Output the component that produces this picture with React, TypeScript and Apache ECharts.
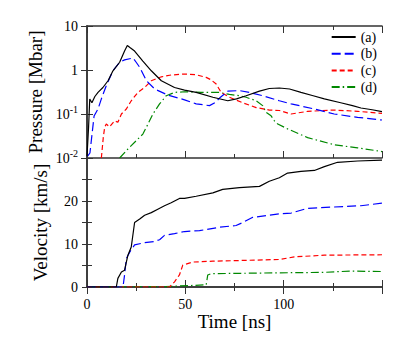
import React, { useEffect, useRef } from "react";
import * as echarts from "echarts";

const seriesNames = ["(a)", "(b)", "(c)", "(d)"];
const seriesColors = ["#000000", "#0000ff", "#ff0000", "#008800"];
const seriesDash: (number[] | "solid")[] = ["solid", [9, 4], [5, 3], [8, 3, 1.5, 3]];

const pressureA = [
  [0, 0.011], [0.8, 0.05], [1.4, 0.22], [2.5, 0.18], [4, 0.25], [5.6, 0.31], [8.1, 0.4],
  [10.7, 0.57], [13.2, 0.96], [16.6, 1.5], [19.1, 2.7], [20.5, 3.6], [22, 3.2], [24.2, 2.7],
  [28.4, 1.6], [32.7, 0.96], [37.8, 0.57], [44.5, 0.4], [49.6, 0.35], [55.5, 0.31], [64, 0.24],
  [71.6, 0.2], [76, 0.22], [80.9, 0.26], [87.7, 0.33], [92.7, 0.38], [97.8, 0.39], [103, 0.37],
  [108.8, 0.31], [115, 0.26], [120.7, 0.22], [129, 0.18], [135, 0.155], [139.3, 0.137],
  [145, 0.125], [150, 0.113],
];
const pressureB = [
  [0.3, 0.011], [1.5, 0.013], [2.2, 0.025], [3.6, 0.09], [5.6, 0.13], [7.3, 0.22], [9.8, 0.44],
  [13.2, 0.96], [16.6, 1.5], [19.1, 1.7], [23.4, 1.87], [25, 1.5], [26.8, 1.15], [30.2, 0.57],
  [34.4, 0.37], [41.1, 0.27], [49.6, 0.21], [55.5, 0.17], [62.3, 0.155], [65, 0.18], [67.4, 0.23],
  [71.6, 0.33], [77.5, 0.34], [82.6, 0.31], [89.3, 0.26], [97.8, 0.2], [103.8, 0.17],
  [115.6, 0.13], [125.7, 0.1], [137.6, 0.084], [150, 0.073],
];
const pressureC = [
  [7.3, 0.01], [8.3, 0.03], [9, 0.05], [9.8, 0.059], [11.5, 0.051], [14, 0.07], [15.7, 0.065],
  [17.5, 0.1], [20, 0.13], [22.5, 0.2], [25.9, 0.31], [29.3, 0.4], [32.7, 0.57], [37.8, 0.7],
  [42.8, 0.77], [49.6, 0.81], [55.5, 0.78], [60.6, 0.68], [63, 0.6], [65.7, 0.48], [68.2, 0.31],
  [72.4, 0.24], [79.2, 0.18], [86, 0.14], [92.7, 0.123], [97.8, 0.12], [103.8, 0.1],
  [112.2, 0.115], [125.7, 0.123], [137.6, 0.115], [150, 0.103],
];
const pressureD = [
  [16.6, 0.01], [20.8, 0.016], [25.9, 0.027], [28.4, 0.035], [31, 0.059], [33.5, 0.1],
  [36.9, 0.17], [40.3, 0.26], [44.5, 0.31], [49.6, 0.32], [58, 0.31], [67, 0.31], [72.4, 0.28],
  [77.5, 0.26], [80.9, 0.24], [86, 0.2], [89.3, 0.155], [91, 0.11], [93.6, 0.091], [95.3, 0.07],
  [97, 0.059], [102, 0.046], [112.2, 0.029], [125.7, 0.02], [137.6, 0.017], [150, 0.014],
];

const velocityA = [
  [0, 0], [14.9, 0], [15.7, 2], [17.5, 3.5], [19.1, 3.9], [20.8, 7.4], [22.5, 9.3], [24.2, 15],
  [26.8, 15.8], [29.3, 16.7], [32.7, 17.3], [36, 18.1], [39.4, 18.9], [42.8, 19.6], [47, 20.6],
  [49.6, 20.6], [55.5, 21.1], [64, 21.9], [69, 22.7], [77.5, 23.1], [87.7, 23.4], [92.7, 24.6],
  [97.8, 25.4], [102, 26.5], [108.8, 26.9], [115.6, 27.1], [120.7, 28], [127.4, 29],
  [137.6, 29.3], [150, 29.5],
];
const velocityB = [
  [0, 0], [18.3, 0], [19.1, 2.8], [20, 6.6], [21.7, 8.1], [24.2, 9.8], [29.3, 10.3],
  [34.4, 10.6], [36.9, 11], [39.4, 12], [44.5, 12.4], [49.6, 12.9], [57.2, 13.1], [67.4, 13.9],
  [75.8, 14.3], [79.2, 15], [84.3, 16.2], [91, 16.6], [97.8, 17.0], [103.8, 17.2], [112.2, 18.3],
  [125.7, 18.6], [139.3, 18.9], [150, 19.5],
];
const velocityC = [
  [0, 0], [42, 0], [44.5, 1.2], [47, 2.8], [48.7, 5.1], [53.8, 5.8], [64, 6.0], [97.8, 6.4],
  [105.4, 7.0], [120.7, 7.4], [150, 7.5],
];
const velocityD = [
  [0, 0], [40, 0.1], [60.6, 0.5], [61.4, 2.8], [63.1, 3.1], [97.8, 3.3], [120, 3.4], [134, 3.7],
  [150, 3.6],
];

const pressureSeries = [pressureA, pressureB, pressureC, pressureD];
const velocitySeries = [velocityA, velocityB, velocityC, velocityD];

const xTickLabels = ["0", "50", "100"];
const velocityTickLabels = ["0", "10", "20"];

const FONT = "Liberation Serif";
const AXIS_COLOR = "#333";

export default function App() {
  const ref = useRef<HTMLDivElement>(null);
  useEffect(() => {
    if (!ref.current) return;
    const chart = echarts.init(ref.current, undefined, { renderer: "svg" });

    const axisLine = { show: true, lineStyle: { color: AXIS_COLOR, width: 1.5 } };
    const xCommon = (gridIndex: number, position: string, labels: boolean) => ({
      type: "value",
      gridIndex,
      position,
      min: 0,
      max: 150,
      interval: 50,
      axisLine,
      axisTick: { show: true, inside: true, length: 7, lineStyle: { color: AXIS_COLOR, width: 1 } },
      minorTick: { show: true, splitNumber: 2, length: 4, lineStyle: { color: AXIS_COLOR, width: 1 } },
      splitLine: { show: false },
      axisLabel: labels
        ? {
            show: true,
            margin: 10,
            fontSize: 14,
            fontFamily: FONT,
            color: "#000",
            formatter: (v: number) => (xTickLabels.includes(String(v)) ? String(v) : ""),
          }
        : { show: false },
    });

    const logFormatter = (v: number) => {
      if (v >= 1) return `{b|${Math.round(v)}}`;
      const e = Math.round(Math.log10(v));
      return `{b|10}{s|${e}}`;
    };
    const rich = {
      b: { fontSize: 14, fontFamily: FONT, color: "#000", lineHeight: 14 },
      s: { fontSize: 10, fontFamily: FONT, color: "#000", lineHeight: 10, padding: [0, 0, 9, 0] },
    };

    const yLog = (right: boolean) => ({
      type: "log",
      logBase: 10,
      gridIndex: 0,
      position: right ? "right" : "left",
      min: 0.01,
      max: 10,
      axisLine,
      axisTick: { show: true, inside: true, length: 6, lineStyle: { color: AXIS_COLOR, width: 1 } },
      minorTick: { show: false },
      splitLine: { show: false },
      axisLabel: right
        ? { show: false }
        : { show: true, margin: 9, formatter: logFormatter, rich },
      name: right ? "" : "Pressure [Mbar]",
      nameLocation: "middle",
      nameGap: 37,
      nameRotate: 90,
      nameTextStyle: { fontSize: 19, fontFamily: FONT, color: "#000", fontWeight: "normal" },
    });

    const yVel = (right: boolean) => ({
      type: "value",
      gridIndex: 1,
      position: right ? "right" : "left",
      min: 0,
      max: 30,
      interval: 5,
      axisLine,
      axisTick: { show: true, inside: true, length: 5, lineStyle: { color: AXIS_COLOR, width: 1 } },
      splitLine: { show: false },
      axisLabel: right
        ? { show: false }
        : {
            show: true,
            margin: 9,
            fontSize: 14,
            fontFamily: FONT,
            color: "#000",
            formatter: (v: number) => (velocityTickLabels.includes(String(v)) ? String(v) : ""),
          },
      name: right ? "" : "Velocity [km/s]",
      nameLocation: "middle",
      nameGap: 37,
      nameRotate: 90,
      nameTextStyle: { fontSize: 19, fontFamily: FONT, color: "#000", fontWeight: "normal" },
    });

    const mkSeries = (data: number[][], i: number, xi: number, yi: number) => ({
      type: "line",
      name: seriesNames[i],
      data,
      xAxisIndex: xi,
      yAxisIndex: yi,
      symbol: "none",
      showSymbol: false,
      smooth: false,
      lineStyle: { color: seriesColors[i], width: 1.2, type: seriesDash[i] },
      itemStyle: { color: seriesColors[i] },
      z: 10 - i,
    });

    const xBottom = xCommon(1, "bottom", true) as any;
    xBottom.name = "Time [ns]";
    xBottom.nameLocation = "middle";
    xBottom.nameGap = 22;
    xBottom.nameTextStyle = { fontSize: 19, fontFamily: FONT, color: "#000", fontWeight: "normal" };

    const option: any = {
      animation: false,
      backgroundColor: "#fff",
      textStyle: { fontFamily: FONT },
      grid: [
        { left: 87, right: 33, top: 26, height: 132 },
        { left: 87, right: 33, top: 158, bottom: 54 },
      ],
      xAxis: [
        xCommon(0, "bottom", false),
        xCommon(0, "top", false),
        xBottom,
        xCommon(1, "top", false),
      ],
      yAxis: [yLog(false), yLog(true), yVel(false), yVel(true)],
      legend: {
        data: seriesNames,
        orient: "vertical",
        right: 33,
        top: 25,
        itemWidth: 24,
        itemHeight: 14,
        itemGap: 2.7,
        itemStyle: { opacity: 0 },
        textStyle: { fontSize: 14, fontFamily: FONT, color: "#000" },
      },
      series: [
        ...pressureSeries.map((d, i) => mkSeries(d, i, 0, 0)),
        ...velocitySeries.map((d, i) => mkSeries(d, i, 2, 2)),
      ],
    };
    chart.setOption(option);
    return () => chart.dispose();
  }, []);

  return (
    <div
      ref={ref}
      style={{ position: "fixed", left: 0, top: 0, width: 415, height: 341 }}
    />
  );
}
